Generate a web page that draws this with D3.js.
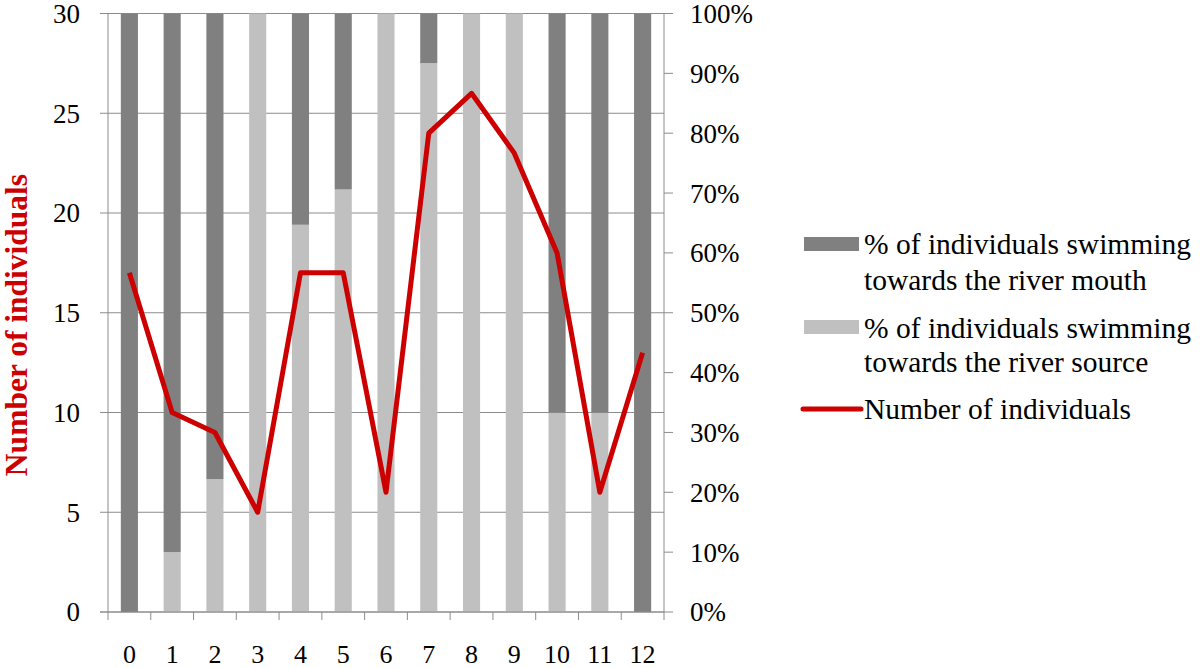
<!DOCTYPE html>
<html>
<head>
<meta charset="utf-8">
<script src="https://cdn.jsdelivr.net/npm/d3@7"></script>
<style>
html,body{margin:0;padding:0;background:#fff;}
</style>
</head>
<body>
<svg id="chart" width="1200" height="668"></svg>
<script>
const categories = ["0","1","2","3","4","5","6","7","8","9","10","11","12"];
const mouthPct  = [100, 90, 77.8, 0, 35.3, 29.4, 0, 8.3, 0, 0, 66.7, 66.7, 100];
const sourcePct = [0, 10, 22.2, 100, 64.7, 70.6, 100, 91.7, 100, 100, 33.3, 33.3, 0];
const individuals = [17, 10, 9, 5, 17, 17, 6, 24, 26, 23, 18, 6, 13];
const leftTicks = [0, 5, 10, 15, 20, 25, 30];
const rightTicks = [0, 10, 20, 30, 40, 50, 60, 70, 80, 90, 100];
const legendLabels = [
  ["% of individuals swimming", "towards the river mouth"],
  ["% of individuals swimming", "towards the river source"],
  ["Number of individuals"]
];

const FONT = "'Liberation Serif', 'Tinos', 'Noto Serif', 'DejaVu Serif', 'FreeSerif', 'Times New Roman', Times, serif";
const svg = d3.select("#chart").attr("font-family", FONT);
const L = 108, R = 664, T = 13.5, B = 612;
const gridColor = "#8c8c8c";
const darkColor = "#808080", lightColor = "#c0c0c0", redColor = "#cc0000";

const x = d3.scaleBand().domain(categories).range([L, R]).padding(0);
const yL = d3.scaleLinear().domain([0, 30]).range([B, T]);
const yR = d3.scaleLinear().domain([0, 100]).range([B, T]);
const bw = x.bandwidth() * 0.4;

// gridlines
svg.append("g").selectAll("line").data(leftTicks).join("line")
  .attr("x1", L - 8).attr("x2", R)
  .attr("y1", d => yL(d)).attr("y2", d => yL(d))
  .attr("stroke", gridColor).attr("stroke-width", 1);

// bars
const rows = categories.map((c, i) => ({c, source: sourcePct[i], mouth: mouthPct[i]}));
const stack = d3.stack().keys(["source", "mouth"])(rows);
const colors = {source: lightColor, mouth: darkColor};
svg.append("g").selectAll("g").data(stack).join("g")
  .attr("fill", s => colors[s.key])
  .selectAll("rect").data(s => s).join("rect")
  .attr("x", d => x(d.data.c) + x.bandwidth() / 2 - bw / 2)
  .attr("width", bw)
  .attr("y", d => yR(d[1]))
  .attr("height", d => Math.max(0, yR(d[0]) - yR(d[1])));

// axes lines
svg.append("line").attr("x1", L).attr("x2", L).attr("y1", T).attr("y2", B).attr("stroke", gridColor);
svg.append("line").attr("x1", R).attr("x2", R).attr("y1", T).attr("y2", B).attr("stroke", gridColor);
svg.append("line").attr("x1", L - 8).attr("x2", R).attr("y1", B).attr("y2", B).attr("stroke", gridColor);

// x ticks at band edges
const edges = categories.map(c => x(c)).concat([R]);
svg.append("g").selectAll("line").data(edges).join("line")
  .attr("x1", d => d).attr("x2", d => d).attr("y1", B).attr("y2", B + 8)
  .attr("stroke", gridColor);
svg.append("g").selectAll("text").data(categories).join("text")
  .attr("x", d => x(d) + x.bandwidth() / 2).attr("y", 663)
  .attr("text-anchor", "middle").attr("font-size", 26).attr("fill", "#000")
  .attr("font-family", FONT)
  .text(d => d);

// left tick labels
svg.append("g").selectAll("text").data(leftTicks).join("text")
  .attr("x", 80).attr("y", d => yL(d)).attr("dy", "0.35em")
  .attr("text-anchor", "end").attr("font-size", 27).attr("fill", "#000")
  .attr("font-family", FONT)
  .text(d => d);

// right ticks
svg.append("g").selectAll("line").data(rightTicks).join("line")
  .attr("x1", R).attr("x2", R + 9).attr("y1", d => yR(d)).attr("y2", d => yR(d))
  .attr("stroke", gridColor);
svg.append("g").selectAll("text").data(rightTicks).join("text")
  .attr("x", 690).attr("y", d => yR(d)).attr("dy", "0.35em")
  .attr("text-anchor", "start").attr("font-size", 27).attr("fill", "#000")
  .attr("font-family", FONT)
  .text(d => d + "%");

// line
const line = d3.line()
  .x((d, i) => x(categories[i]) + x.bandwidth() / 2)
  .y(d => yL(d));
svg.append("path").datum(individuals)
  .attr("d", line).attr("fill", "none")
  .attr("stroke", redColor).attr("stroke-width", 5)
  .attr("stroke-linejoin", "round");

// y-axis title
svg.append("text")
  .attr("transform", "translate(27,325) rotate(-90)")
  .attr("text-anchor", "middle").attr("font-size", 31.5).attr("font-weight", "bold")
  .attr("fill", redColor).attr("font-family", FONT)
  .text("Number of individuals");

// legend
const lg = svg.append("g");
lg.append("rect").attr("x", 804).attr("y", 237).attr("width", 55).attr("height", 14).attr("fill", darkColor);
lg.append("rect").attr("x", 804).attr("y", 320).attr("width", 55).attr("height", 14).attr("fill", lightColor);
lg.append("line").attr("x1", 803).attr("x2", 861).attr("y1", 409).attr("y2", 409)
  .attr("stroke", redColor).attr("stroke-width", 5).attr("stroke-linecap", "round");
const baselines = [[254, 290], [338, 372], [419]];
legendLabels.forEach((lines, i) => {
  lines.forEach((t, j) => {
    lg.append("text").attr("x", 864).attr("y", baselines[i][j])
      .attr("font-size", 29.5).attr("fill", "#000").attr("font-family", FONT).text(t);
  });
});
</script>
</body>
</html>
